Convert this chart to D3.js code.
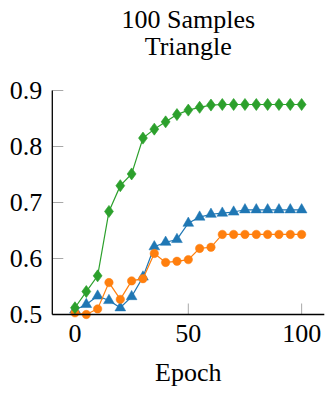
<!DOCTYPE html>
<html>
<head>
<meta charset="utf-8">
<script src="https://cdn.jsdelivr.net/npm/d3@7"></script>
<style>
  body { margin: 0; background: #fff; }
  svg text { font-family: "Liberation Serif", "Times New Roman", serif; fill: #000; }
</style>
</head>
<body>
<div id="chart"></div>
<script>
"use strict"

// data
let epochs = [0, 5, 10, 15, 20, 25, 30, 35, 40, 45, 50, 55, 60, 65, 70, 75, 80, 85, 90, 95, 100];
let greenVals = [0.512, 0.541, 0.569, 0.684, 0.730, 0.751, 0.815, 0.831, 0.844, 0.857, 0.865, 0.870, 0.874, 0.875, 0.875, 0.875, 0.875, 0.875, 0.875, 0.875, 0.875];
let blueVals = [0.508, 0.518, 0.533, 0.525, 0.512, 0.532, 0.567, 0.621, 0.629, 0.634, 0.663, 0.674, 0.679, 0.681, 0.683, 0.687, 0.687, 0.687, 0.687, 0.687, 0.687];
let orangeVals = [0.503, 0.500, 0.510, 0.557, 0.527, 0.560, 0.564, 0.609, 0.593, 0.595, 0.598, 0.618, 0.620, 0.643, 0.643, 0.643, 0.643, 0.643, 0.643, 0.643, 0.643];
let xTicks = [0, 50, 100];
let yTicks = [0.5, 0.6, 0.7, 0.8, 0.9];
let titleLines = ["100 Samples", "Triangle"];
let xLabel = "Epoch";

let svg = d3.select("#chart").append("svg")
    .attr("width", 332)
    .attr("height", 400);

let x = d3.scaleLinear()
    .domain([-10, 110])
    .range([52.3, 324.3]);

let y = d3.scaleLinear()
    .domain([0.5, 0.9])
    .range([314.5, 90.5]);

let fontSize = 26;

// title
svg.selectAll(".title")
    .data(titleLines)
    .enter().append("text")
    .attr("class", "title")
    .attr("x", (x.range()[0] + x.range()[1]) / 2)
    .attr("y", (d, i) => 28 + i * 27)
    .attr("text-anchor", "middle")
    .style("font-size", fontSize + "px")
    .text(d => d);

// ticks (inward, grey)
svg.selectAll(".ytick")
    .data(yTicks)
    .enter().append("line")
    .attr("x1", x.range()[0])
    .attr("x2", x.range()[0] + 11)
    .attr("y1", d => y(d))
    .attr("y2", d => y(d))
    .style("stroke", "#a8a8a8")
    .style("stroke-width", "1px");

svg.selectAll(".xtick")
    .data(xTicks)
    .enter().append("line")
    .attr("x1", d => x(d))
    .attr("x2", d => x(d))
    .attr("y1", y.range()[0])
    .attr("y2", y.range()[0] - 11)
    .style("stroke", "#a8a8a8")
    .style("stroke-width", "1px");

// tick labels
svg.selectAll(".ylabel")
    .data(yTicks)
    .enter().append("text")
    .attr("x", x.range()[0] - 10)
    .attr("y", d => y(d))
    .attr("dy", "0.33em")
    .attr("text-anchor", "end")
    .style("font-size", fontSize + "px")
    .text(d => d3.format(".1f")(d));

svg.selectAll(".xlabel")
    .data(xTicks)
    .enter().append("text")
    .attr("x", d => x(d))
    .attr("y", 342)
    .attr("text-anchor", "middle")
    .style("font-size", fontSize + "px")
    .text(d => d);

svg.append("text")
    .attr("x", (x.range()[0] + x.range()[1]) / 2)
    .attr("y", 381)
    .attr("text-anchor", "middle")
    .style("font-size", fontSize + "px")
    .text(xLabel);

/* draw one series with its markers */
function drawSeries(vals, color, shape, size) {
    let pts = epochs.map((e, i) => ({ x: e, v: vals[i] }));
    let lineFunc = d3.line()
        .x(d => x(d.x))
        .y(d => y(d.v));

    svg.append("path")
        .attr("d", lineFunc(pts))
        .style("stroke", color)
        .style("stroke-width", "1.2px")
        .style("fill", "none");

    let sym = d3.symbol().type(shape).size(size);
    svg.selectAll(null)
        .data(pts)
        .enter().append("path")
        .attr("d", sym)
        .attr("transform", d => {
            let t = "translate(" + x(d.x) + "," + y(d.v) + ")";
            if (shape === d3.symbolDiamond) t += " scale(1.5,1.18)";
            return t;
        })
        .style("fill", color)
        .style("stroke", color)
        .style("stroke-width", "0.5px");
}

drawSeries(blueVals, "#1f77b4", d3.symbolTriangle, 50);
drawSeries(orangeVals, "#ff7f0e", d3.symbolCircle, 56);
drawSeries(greenVals, "#2ca02c", d3.symbolDiamond, 30);

// axis lines (left and bottom only)
svg.append("line")
    .attr("x1", x.range()[0])
    .attr("x2", x.range()[0])
    .attr("y1", y.range()[1])
    .attr("y2", y.range()[0])
    .style("stroke", "black")
    .style("stroke-width", "1.3px");

svg.append("line")
    .attr("x1", x.range()[0])
    .attr("x2", x.range()[1])
    .attr("y1", y.range()[0])
    .attr("y2", y.range()[0])
    .style("stroke", "black")
    .style("stroke-width", "1.3px");
</script>
</body>
</html>
